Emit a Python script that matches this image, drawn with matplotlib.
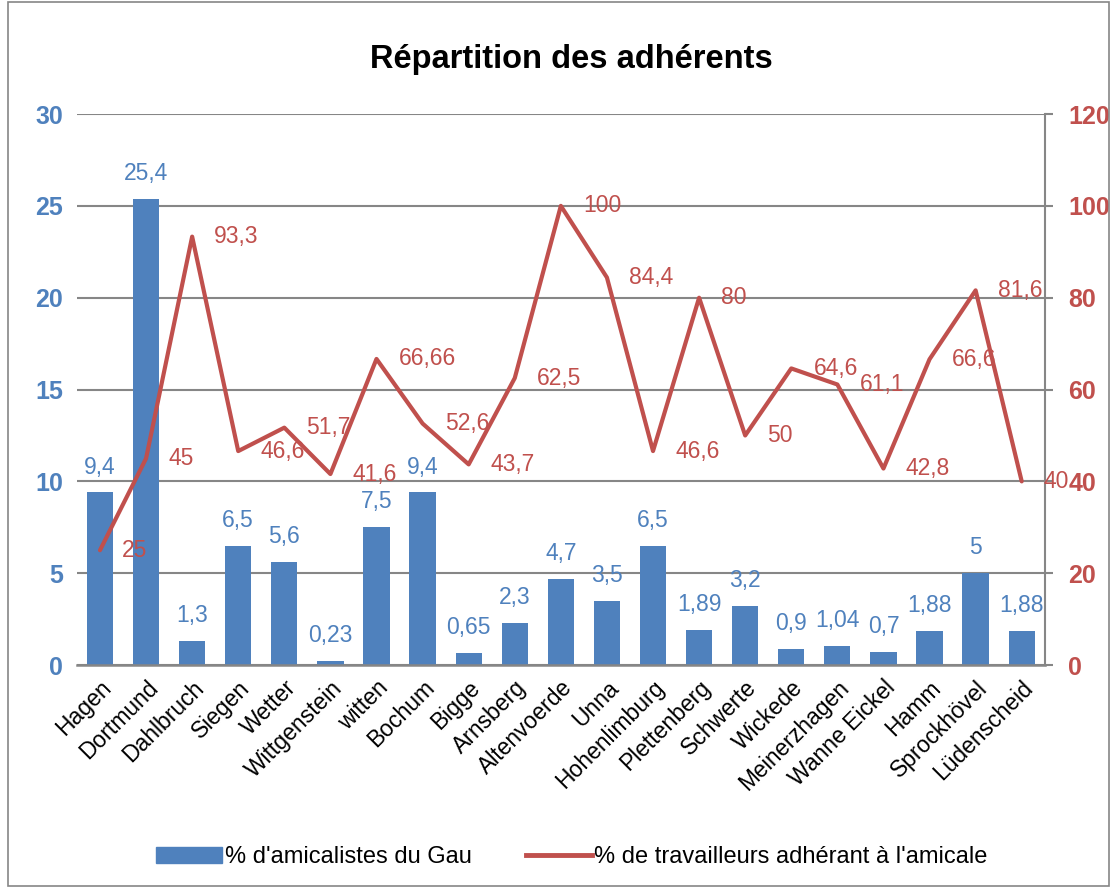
import numpy as np
import matplotlib.pyplot as plt
from matplotlib.patches import Rectangle
from matplotlib.lines import Line2D
from matplotlib.patches import Patch

plt.rcParams['font.family'] = ['Liberation Sans', 'DejaVu Sans']

villes = ['Hagen', 'Dortmund', 'Dahlbruch', 'Siegen', 'Wetter', 'Wittgenstein',
          'witten', 'Bochum', 'Bigge', 'Arnsberg', 'Altenvoerde', 'Unna',
          'Hohenlimburg', 'Plettenberg', 'Schwerte', 'Wickede', 'Meinerzhagen',
          'Wanne Eickel', 'Hamm', 'Sprockhövel', 'Lüdenscheid']
amicalistes = [9.4, 25.4, 1.3, 6.5, 5.6, 0.23, 7.5, 9.4, 0.65, 2.3, 4.7, 3.5,
               6.5, 1.89, 3.2, 0.9, 1.04, 0.7, 1.88, 5, 1.88]
travailleurs = [25, 45, 93.3, 46.6, 51.7, 41.6, 66.66, 52.6, 43.7, 62.5, 100,
                84.4, 46.6, 80, 50, 64.6, 61.1, 42.8, 66.6, 81.6, 40]

blue = '#4F81BD'
red = '#C0504D'
grey = '#868686'

def fr(v):
    return ('%g' % v).replace('.', ',')

fig = plt.figure(figsize=(11.15, 8.91), dpi=100)
ax = fig.add_axes([0.069, 0.2536, 0.868, 0.6184])
ax2 = ax.twinx()

x = np.arange(len(villes))
ax.bar(x, amicalistes, width=0.57, color=blue, zorder=2)
for xi, v in zip(x, amicalistes):
    ax.annotate(fr(v), (xi, v), xytext=(0, 10), textcoords='offset points',
                ha='center', va='bottom', color=blue, fontsize=16.5)

ax2.plot(x, travailleurs, color=red, lw=3, solid_capstyle='round',
         solid_joinstyle='round', zorder=3)
for xi, v in zip(x, travailleurs):
    ax2.annotate(fr(v), (xi, v), xytext=(16, 0), textcoords='offset points',
                 ha='left', va='center', color=red, fontsize=16.5)

ax.set_xlim(-0.5, len(villes) - 0.5)
ax.set_ylim(0, 30)
ax2.set_ylim(0, 120)
ax.set_yticks(range(0, 31, 5))
ax2.set_yticks(range(0, 121, 20))
ax.yaxis.grid(True, color=grey, lw=1.5, zorder=0)
ax.set_axisbelow(True)

for a in (ax, ax2):
    for s in a.spines.values():
        s.set_visible(False)
ax.spines['bottom'].set_visible(True)
ax.spines['bottom'].set_color(grey)
ax.spines['bottom'].set_linewidth(1.8)
ax2.spines['right'].set_visible(True)
ax2.spines['right'].set_color(grey)
ax2.spines['right'].set_linewidth(1.5)

ax.set_xticks(x)
ax.set_xticklabels(villes, rotation=45, ha='right', rotation_mode='anchor',
                   fontsize=16.5)
ax.tick_params(axis='x', length=0, pad=8)
ax.tick_params(axis='y', length=0, pad=10, labelcolor=blue, labelsize=18)
ax2.tick_params(axis='y', length=6, width=1.5, color=grey, pad=11,
                labelcolor=red, labelsize=18)
for t in ax.get_yticklabels():
    t.set_fontweight('bold')
for t in ax2.get_yticklabels():
    t.set_fontweight('bold')

fig.text(0.512, 0.933, 'Répartition des adhérents', ha='center', va='center',
         fontsize=23.5, fontweight='bold')

handles = [Patch(color=blue), Line2D([0], [0], color=red, lw=3.5)]
fig.legend(handles, ["% d'amicalistes du Gau", "% de travailleurs adhérant à l'amicale"],
           loc='center', bbox_to_anchor=(0.513, 0.038), ncol=2, frameon=False,
           fontsize=17, handlelength=2.8, handletextpad=0.1, columnspacing=2.3)

fig.patches.append(Rectangle((0.007, 0.006), 0.988, 0.992, transform=fig.transFigure,
                             fill=False, edgecolor=grey, lw=1.2))

fig.savefig('out.png', dpi=100)
